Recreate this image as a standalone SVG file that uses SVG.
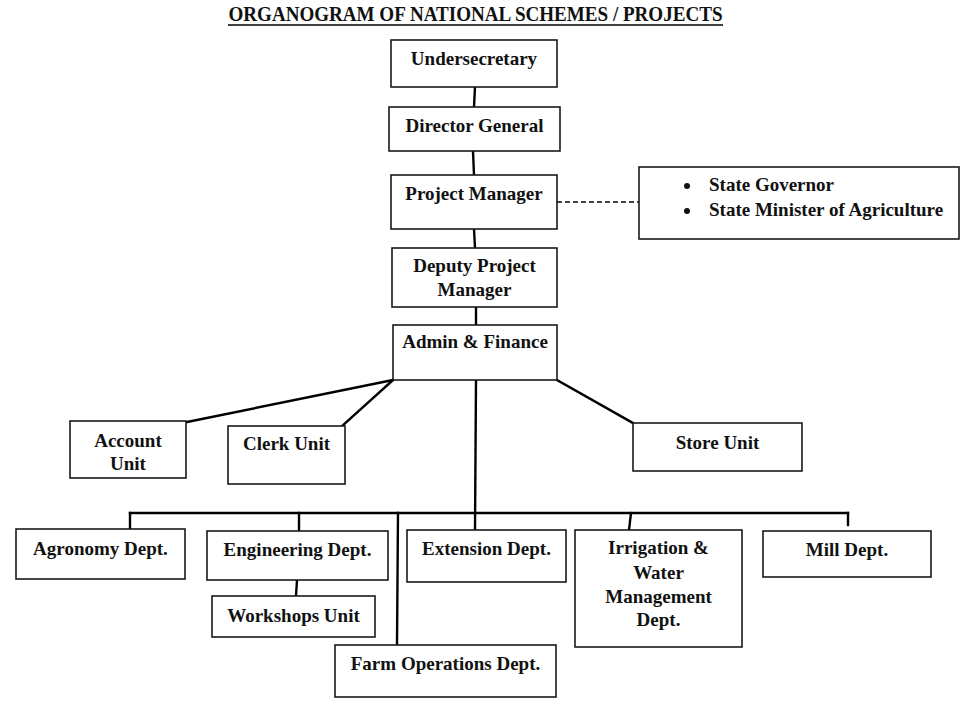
<svg xmlns="http://www.w3.org/2000/svg" width="972" height="702" viewBox="0 0 972 702">
<style>
.box{fill:#fff;stroke:#1a1a1a;stroke-width:1.6}
.t{font-family:"Liberation Serif","Times New Roman",serif;font-weight:bold;font-size:19px;fill:#111;text-anchor:middle}
.tl{font-family:"Liberation Serif","Times New Roman",serif;font-weight:bold;font-size:19px;fill:#111}
.c{stroke:#000;stroke-width:2.4;fill:none;stroke-linecap:square}
.d{stroke:#000;stroke-width:1.3;fill:none;stroke-dasharray:5,3}
</style>
<rect width="972" height="702" fill="#fff"/>
<text x="475.5" y="21" class="t" style="font-size:20px" textLength="494" lengthAdjust="spacingAndGlyphs">ORGANOGRAM OF NATIONAL SCHEMES / PROJECTS</text>
<line x1="228" y1="25" x2="723" y2="25" stroke="#000" stroke-width="1.6"/>
<g id="connectors">
<line class="c" x1="475" y1="87" x2="474" y2="107"/>
<line class="c" x1="473" y1="151" x2="474" y2="175"/>
<line class="c" x1="474" y1="229" x2="475" y2="248"/>
<line class="c" x1="476" y1="307" x2="476" y2="325"/>
<line class="c" x1="393" y1="380" x2="187" y2="422"/>
<line class="c" x1="393" y1="380" x2="342" y2="426"/>
<line class="c" x1="557" y1="380" x2="633" y2="423"/>
<line class="c" x1="476" y1="380" x2="475" y2="530"/>
<line class="c" x1="130" y1="513" x2="848" y2="513"/>
<line class="c" x1="130" y1="513" x2="130" y2="529"/>
<line class="c" x1="299" y1="513" x2="299" y2="531"/>
<line class="c" x1="398" y1="513" x2="397" y2="645"/>
<line class="c" x1="631" y1="513" x2="629" y2="530"/>
<line class="c" x1="848" y1="513" x2="848" y2="525"/>
<line class="c" x1="297" y1="580" x2="296" y2="596"/>
<line class="d" x1="557" y1="202" x2="639" y2="202"/>
</g>
<g id="undersecretary"><rect class="box" x="391" y="40" width="166" height="47"/><text class="t" x="474" y="65">Undersecretary</text></g>
<g id="director-general"><rect class="box" x="389" y="107" width="171" height="44"/><text class="t" x="474.5" y="132">Director General</text></g>
<g id="project-manager"><rect class="box" x="391" y="175" width="166" height="54"/><text class="t" x="474" y="200">Project Manager</text></g>
<g id="state"><rect class="box" x="639" y="167" width="320" height="72"/>
<circle cx="687" cy="186" r="3" fill="#111"/><circle cx="687" cy="211" r="3" fill="#111"/>
<text class="tl" x="709" y="191">State Governor</text><text class="tl" x="709" y="216">State Minister of Agriculture</text></g>
<g id="deputy-project-manager"><rect class="box" x="392" y="248" width="165" height="59"/><text class="t" x="474.5" y="272">Deputy Project</text><text class="t" x="474.5" y="296">Manager</text></g>
<g id="admin-finance"><rect class="box" x="393" y="325" width="164" height="55"/><text class="t" x="475" y="348">Admin &amp; Finance</text></g>
<g id="account-unit"><rect class="box" x="70" y="421" width="116" height="57"/><text class="t" x="128" y="447">Account</text><text class="t" x="128" y="470">Unit</text></g>
<g id="clerk-unit"><rect class="box" x="228" y="426" width="117" height="58"/><text class="t" x="286.5" y="450">Clerk Unit</text></g>
<g id="store-unit"><rect class="box" x="633" y="423" width="169" height="48"/><text class="t" x="717.5" y="449">Store Unit</text></g>
<g id="agronomy"><rect class="box" x="16" y="529" width="169" height="50"/><text class="t" x="100.5" y="555">Agronomy Dept.</text></g>
<g id="engineering"><rect class="box" x="207" y="531" width="181" height="49"/><text class="t" x="297.5" y="556">Engineering Dept.</text></g>
<g id="workshops"><rect class="box" x="212" y="596" width="163" height="41"/><text class="t" x="293.5" y="622">Workshops Unit</text></g>
<g id="extension"><rect class="box" x="407" y="530" width="159" height="52"/><text class="t" x="486.5" y="555">Extension Dept.</text></g>
<g id="farm-operations"><rect class="box" x="335" y="645" width="221" height="52"/><text class="t" x="445.5" y="670">Farm Operations Dept.</text></g>
<g id="irrigation"><rect class="box" x="575" y="530" width="167" height="117"/><text class="t" x="658.5" y="554">Irrigation &amp;</text><text class="t" x="658.5" y="579">Water</text><text class="t" x="658.5" y="603">Management</text><text class="t" x="658.5" y="626">Dept.</text></g>
<g id="mill"><rect class="box" x="763" y="531" width="168" height="46"/><text class="t" x="847" y="556">Mill Dept.</text></g>
</svg>
